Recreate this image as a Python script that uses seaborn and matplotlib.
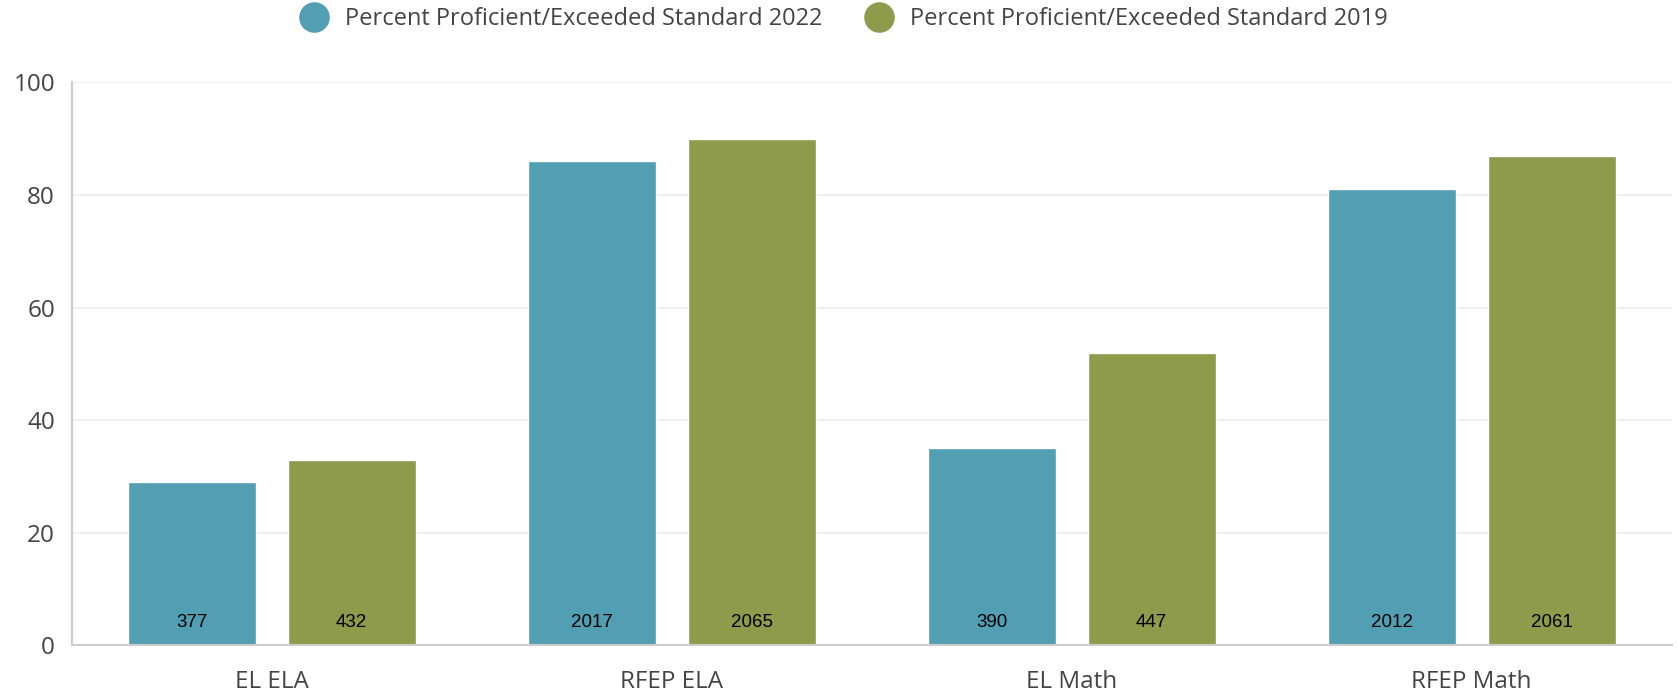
import matplotlib
matplotlib.use("Agg")
import matplotlib.pyplot as plt
from matplotlib.lines import Line2D
import seaborn as sns
import pandas as pd

# data
categories = ["EL ELA", "RFEP ELA", "EL Math", "RFEP Math"]
series = ["Percent Proficient/Exceeded Standard 2022", "Percent Proficient/Exceeded Standard 2019"]
pct_2022 = [29, 86, 35, 81]
pct_2019 = [33, 90, 52, 87]
counts_2022 = [377, 2017, 390, 2012]
counts_2019 = [432, 2065, 447, 2061]

colors = ["#529EB2", "#8D9B4B"]

df = pd.DataFrame({
    "category": categories * 2,
    "series": [series[0]] * 4 + [series[1]] * 4,
    "value": pct_2022 + pct_2019,
})

sns.set_style("white")
plt.rcParams["font.family"] = ["Open Sans", "DejaVu Sans"]

fig = plt.figure(figsize=(16.78, 6.94), dpi=100)
ax = fig.add_axes([0.0427, 0.0702, 0.9535, 0.8111])

sns.barplot(data=df, x="category", y="value", hue="series", order=categories,
            hue_order=series, palette=colors, width=0.8, gap=0.2,
            saturation=1, legend=False, ax=ax)

ax.set_xlim(-0.5, 3.5)
ax.set_ylim(0, 100)
ax.set_yticks([0, 20, 40, 60, 80, 100])
ax.yaxis.grid(True, color="#ececec", linewidth=1.2)
ax.set_axisbelow(True)
ax.set_xlabel("")
ax.set_ylabel("")
ax.tick_params(axis="both", length=0, labelsize=17.5, labelcolor="#444444")
ax.tick_params(axis="y", pad=12)
ax.tick_params(axis="x", pad=18)
for s in ["top", "right"]:
    ax.spines[s].set_visible(False)
for s in ["left", "bottom"]:
    ax.spines[s].set_color("#cccccc")
    ax.spines[s].set_linewidth(1.5)

# count labels near bar bottoms
for cont, counts in zip(ax.containers, [counts_2022, counts_2019]):
    for patch, c in zip(cont, counts):
        ax.text(patch.get_x() + patch.get_width() / 2, 4, str(c),
                ha="center", va="center", fontsize=13.5, color="black",
                family="Liberation Sans")

handles = [Line2D([], [], marker="o", linestyle="", markersize=21,
                  markerfacecolor=c, markeredgecolor=c) for c in colors]
fig.legend(handles, series, loc="center", bbox_to_anchor=(0.5, 0.972), ncol=2,
           frameon=False, fontsize=17, handletextpad=0.3, columnspacing=1.4,
           labelcolor="#444444")

fig.savefig("out.png", dpi=100)
